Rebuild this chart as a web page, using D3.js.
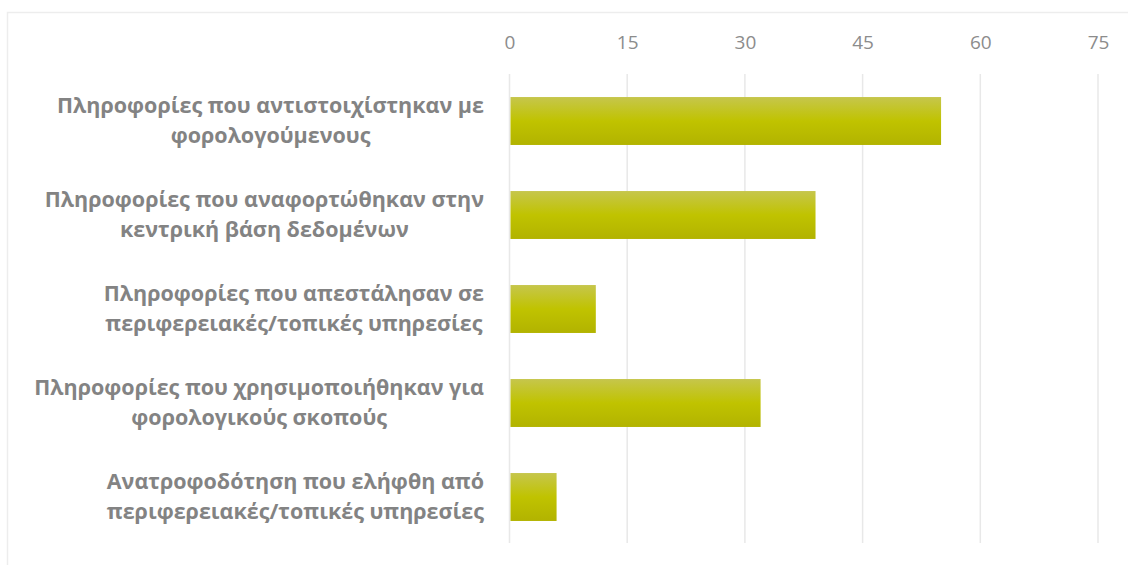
<!DOCTYPE html>
<html>
<head>
<meta charset="utf-8">
<script src="https://cdn.jsdelivr.net/npm/d3@7"></script>
<style>
  html, body { margin: 0; padding: 0; background: #fff; }
  svg { display: block; }
</style>
</head>
<body>
<svg id="chart" width="1128" height="565"></svg>
<script>
// Category labels (each split into its display lines) and values
const categories = [
  ["Πληροφορίες που αντιστοιχίστηκαν με", "φορολογούμενους"],
  ["Πληροφορίες που αναφορτώθηκαν στην", "κεντρική βάση δεδομένων"],
  ["Πληροφορίες που απεστάλησαν σε", "περιφερειακές/τοπικές υπηρεσίες"],
  ["Πληροφορίες που χρησιμοποιήθηκαν για", "φορολογικούς σκοπούς"],
  ["Ανατροφοδότηση που ελήφθη από", "περιφερειακές/τοπικές υπηρεσίες"]
];
const values = [55, 39, 11, 32, 6];
const tickValues = [0, 15, 30, 45, 60, 75];

const svg = d3.select("#chart");
const W = 1128, H = 565;
const margin = { top: 74, right: 30, bottom: 21, left: 509.5 };

// Outer chart frame
svg.append("rect")
  .attr("x", 7.5).attr("y", 12.5)
  .attr("width", W + 10).attr("height", H + 10)
  .attr("fill", "#fff")
  .attr("stroke", "#ededed")
  .attr("stroke-width", 1.5);

const x = d3.scaleLinear().domain([0, 75]).range([margin.left, 1098]);
const y = d3.scaleBand()
  .domain(d3.range(categories.length))
  .range([margin.top, H - margin.bottom])
  .paddingInner(0.49)
  .paddingOuter(0.245);

// Vertical gridlines
const gridTop = margin.top, gridBottom = 543;
svg.append("g")
  .selectAll("line")
  .data(tickValues)
  .join("line")
  .attr("x1", d => x(d)).attr("x2", d => x(d))
  .attr("y1", gridTop).attr("y2", gridBottom)
  .attr("stroke", "#e8e8e8")
  .attr("stroke-width", 1.5);

// Top value axis
const axis = svg.append("g")
  .attr("transform", `translate(0, 49)`)
  .call(d3.axisTop(x).tickValues(tickValues).tickSize(0).tickPadding(0));
axis.select(".domain").remove();
axis.selectAll("text")
  .attr("font-family", "'Open Sans', sans-serif")
  .attr("font-size", 19)
  .attr("fill", "#8c8c8c");

// Bar gradient
const defs = svg.append("defs");
const grad = defs.append("linearGradient")
  .attr("id", "barGrad")
  .attr("x1", 0).attr("y1", 0).attr("x2", 0).attr("y2", 1);
grad.append("stop").attr("offset", "0%").attr("stop-color", "#c6c64c");
grad.append("stop").attr("offset", "50%").attr("stop-color", "#c0c300");
grad.append("stop").attr("offset", "100%").attr("stop-color", "#b2b300");

// Bars
svg.append("g")
  .selectAll("rect")
  .data(values)
  .join("rect")
  .attr("x", x(0) + 1)
  .attr("y", (d, i) => y(i))
  .attr("width", d => x(d) - x(0) - 1)
  .attr("height", y.bandwidth())
  .attr("fill", "url(#barGrad)");

// Category labels: centred multi-line blocks, right-aligned to the axis
const labelRight = 484;
const labels = svg.append("g")
  .attr("font-family", "'Open Sans', sans-serif")
  .attr("font-weight", "bold")
  .attr("font-size", 21.5)
  .attr("fill", "#838383");

categories.forEach((lines, i) => {
  const cy = y(i) + y.bandwidth() / 2;
  const g = labels.append("g");
  const texts = g.selectAll("text")
    .data(lines)
    .join("text")
    .attr("text-anchor", "middle")
    .attr("y", (d, k) => cy - 8 + k * 30)
    .text(d => d);
  let maxW = 0;
  texts.each(function () { maxW = Math.max(maxW, this.getComputedTextLength()); });
  texts.attr("x", labelRight - maxW / 2);
});
</script>
</body>
</html>
